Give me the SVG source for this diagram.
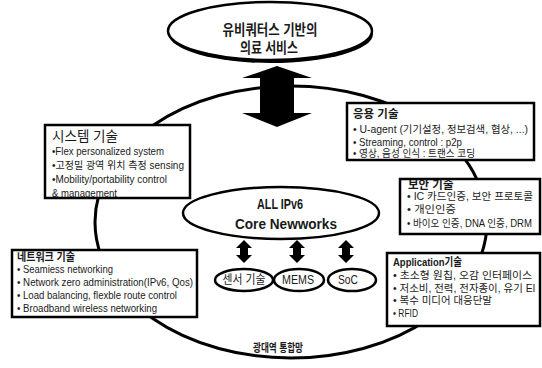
<svg xmlns="http://www.w3.org/2000/svg" width="542" height="368" viewBox="0 0 542 368">
<style>
.t{font-family:"Liberation Sans","Noto Sans CJK KR",sans-serif;fill:#1a1a1a}
.b{font-size:10.5px}
.h{font-size:11.5px;font-weight:bold}
.big{font-size:14.5px;font-weight:bold}
.box{fill:#fff;stroke:#000;stroke-width:2.5}
.el{fill:#fff;stroke:#000;stroke-width:2.5}
.sm{font-size:12px}
</style>
<rect width="542" height="368" fill="#fff"/>
<g id="ring">
<ellipse cx="291" cy="222" rx="196" ry="136" fill="none" stroke="#000" stroke-width="3"/>
<text class="t" x="278" y="352" text-anchor="middle" font-size="11.5" font-weight="bold" textLength="50" lengthAdjust="spacingAndGlyphs">광대역 통합망</text>
</g>
<g id="top">
<ellipse cx="271" cy="34" rx="102" ry="29" fill="#000"/>
<ellipse cx="270" cy="31" rx="102" ry="29" class="el" stroke-width="2"/>
<text class="t big" x="270" y="35" text-anchor="middle" textLength="95" lengthAdjust="spacingAndGlyphs">유비쿼터스 기반의</text>
<text class="t big" x="269" y="53" text-anchor="middle" textLength="58" lengthAdjust="spacingAndGlyphs">의료 서비스</text>
</g>
<g id="connectors" fill="#000">
<polygon points="277,66 312,78 294,78 294,113 312,113 277,127 242,113 260,113 260,78 242,78"/>
<polygon points="244,240 252,248 248,248 248,255 252,255 244,263 236,255 240,255 240,248 236,248"/>
<polygon points="297,240 305,248 301,248 301,255 305,255 297,263 289,255 293,255 293,248 289,248"/>
<polygon points="346,240 354,248 350,248 350,255 354,255 346,263 338,255 342,255 342,248 338,248"/>
</g>
<g id="core">
<ellipse cx="281" cy="213" rx="98" ry="26" class="el"/>
<text class="t big" x="280" y="209" text-anchor="middle" textLength="46" lengthAdjust="spacingAndGlyphs">ALL IPv6</text>
<text class="t big" x="286" y="229" text-anchor="middle" textLength="102" lengthAdjust="spacingAndGlyphs">Core Newworks</text>
</g>
<g id="sensor">
<ellipse cx="244" cy="280" rx="29" ry="11" class="el"/>
<text class="t sm" x="244" y="284" text-anchor="middle" textLength="43" lengthAdjust="spacingAndGlyphs">센서 기술</text>
</g>
<g id="mems">
<ellipse cx="299" cy="280" rx="25" ry="11" class="el"/>
<text class="t sm" x="298" y="284" text-anchor="middle" textLength="32" lengthAdjust="spacingAndGlyphs">MEMS</text>
</g>
<g id="soc">
<ellipse cx="352" cy="280" rx="24" ry="11" class="el"/>
<text class="t sm" x="348" y="284" text-anchor="middle" textLength="20" lengthAdjust="spacingAndGlyphs">SoC</text>
</g>
<g id="system">
<rect x="45" y="125" width="145" height="73" class="box"/>
<text class="t" x="52" y="141" font-size="14" textLength="66" lengthAdjust="spacingAndGlyphs">시스템 기술</text>
<text class="t b" x="52" y="155" textLength="112" lengthAdjust="spacingAndGlyphs">•Flex personalized system</text>
<text class="t b" x="52" y="169" textLength="132" lengthAdjust="spacingAndGlyphs">•고정밀 광역 위치 측정 sensing</text>
<text class="t b" x="52" y="183" textLength="115" lengthAdjust="spacingAndGlyphs">•Mobility/portability control</text>
<text class="t b" x="52" y="197" textLength="65" lengthAdjust="spacingAndGlyphs">&amp; management</text>
</g>
<g id="app-tech">
<rect x="347" y="103" width="187" height="57" class="box"/>
<text class="t h" x="353" y="118">응용 기술</text>
<text class="t b" x="353" y="133" textLength="175" lengthAdjust="spacingAndGlyphs">• U-agent (기기설정, 정보검색, 협상, ...)</text>
<text class="t b" x="353" y="146" textLength="109" lengthAdjust="spacingAndGlyphs">• Streaming, control : p2p</text>
<text class="t b" x="353" y="157" textLength="122" lengthAdjust="spacingAndGlyphs">• 영상, 음성 인식 : 트랜스 코딩</text>
</g>
<g id="security">
<rect x="400" y="179" width="140" height="55" class="box"/>
<text class="t h" x="408" y="189">보안 기술</text>
<text class="t" font-size="10" x="407" y="200" textLength="126" lengthAdjust="spacingAndGlyphs">• IC 카드인증, 보안 프로토콜</text>
<text class="t" font-size="10" x="407" y="213" textLength="49" lengthAdjust="spacingAndGlyphs">• 개인인증</text>
<text class="t" font-size="10" x="407" y="227" textLength="125" lengthAdjust="spacingAndGlyphs">• 바이오 인증, DNA 인증, DRM</text>
</g>
<g id="application">
<rect x="387" y="253" width="153" height="73" class="box"/>
<text class="t h" x="393" y="266" textLength="69" lengthAdjust="spacingAndGlyphs">Application기술</text>
<text class="t b" x="393" y="279" textLength="139" lengthAdjust="spacingAndGlyphs">• 초소형 원칩, 오감 인터페이스</text>
<text class="t b" x="393" y="292" textLength="142" lengthAdjust="spacingAndGlyphs">• 저소비, 전력, 전자종이, 유기 El</text>
<text class="t b" x="393" y="304" textLength="99" lengthAdjust="spacingAndGlyphs">• 복수 미디어 대응단말</text>
<text class="t b" x="393" y="317" textLength="25" lengthAdjust="spacingAndGlyphs">• RFID</text>
</g>
<g id="network">
<rect x="12" y="250" width="185" height="67" class="box"/>
<text class="t h" x="17" y="261" textLength="58" lengthAdjust="spacingAndGlyphs">네트워크 기술</text>
<text class="t b" x="17" y="273" textLength="96" lengthAdjust="spacingAndGlyphs">• Seamiess networking</text>
<text class="t b" x="17" y="286" textLength="176" lengthAdjust="spacingAndGlyphs">• Network zero administration(IPv6, Qos)</text>
<text class="t b" x="17" y="299" textLength="160" lengthAdjust="spacingAndGlyphs">• Load balancing, flexble route control</text>
<text class="t b" x="17" y="312" textLength="140" lengthAdjust="spacingAndGlyphs">• Broadband wireless networking</text>
</g>
</svg>
